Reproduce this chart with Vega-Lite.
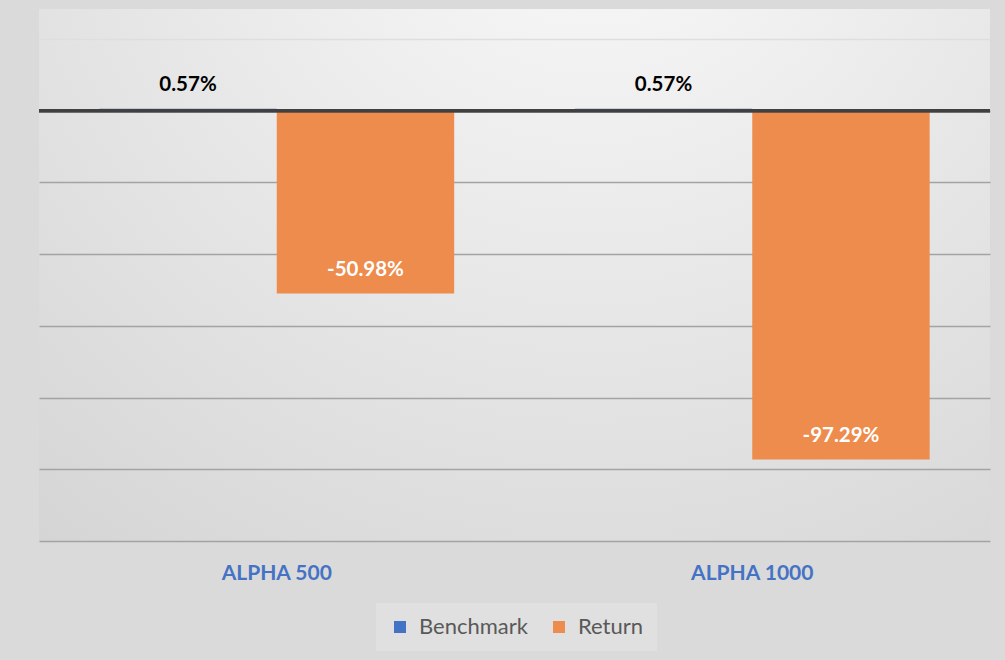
{
  "$schema": "https://vega.github.io/schema/vega-lite/v6.json",
  "width": 951,
  "height": 532,
  "autosize": {"type": "none"},
  "padding": {"left": 39, "top": 9, "right": 15, "bottom": 119},
  "background": "#dadada",
  "config": {
    "locale": {
      "number": {"decimal": ".", "thousands": ",", "grouping": [3], "currency": ["$", ""], "minus": "-"}
    }
  },
  "view": {
    "stroke": null,
    "fill": {
      "gradient": "radial",
      "x1": 0.58, "y1": 0.05, "x2": 0.58, "y2": 0.05,
      "r1": 0, "r2": 0.95,
      "stops": [
        {"offset": 0, "color": "#fbfbfb"},
        {"offset": 1, "color": "#d4d4d4"}
      ]
    }
  },
  "data": {
    "values": [
      {"fund": "ALPHA 500", "series": "Benchmark", "value": 0.0057},
      {"fund": "ALPHA 500", "series": "Return", "value": -0.5098},
      {"fund": "ALPHA 1000", "series": "Benchmark", "value": 0.0057},
      {"fund": "ALPHA 1000", "series": "Return", "value": -0.9729}
    ]
  },
  "encoding": {
    "x": {
      "field": "fund",
      "type": "nominal",
      "sort": ["ALPHA 500", "ALPHA 1000"],
      "scale": {"paddingInner": 0, "paddingOuter": 0},
      "axis": {
        "title": null,
        "labelAngle": 0,
        "domain": false,
        "ticks": false,
        "labelPadding": 21,
        "labelFont": "Lato",
        "labelFontWeight": "bold",
        "labelFontSize": 21,
        "labelColor": "#4472C4"
      }
    },
    "xOffset": {
      "field": "series",
      "type": "nominal",
      "sort": ["Benchmark", "Return"],
      "scale": {"paddingInner": 0, "paddingOuter": 0.34}
    },
    "y": {
      "field": "value",
      "type": "quantitative",
      "scale": {"domain": [-1.2, 0.2837], "nice": false, "zero": false},
      "axis": {
        "title": null,
        "values": [0.2, 0, -0.2, -0.4, -0.6, -0.8, -1.0, -1.2],
        "labels": false,
        "ticks": false,
        "domain": false,
        "gridWidth": 1.5,
        "gridColor": {"condition": {"test": "datum.value > 0.1", "value": "#dedede"}, "value": "#a3a3a3"}
      }
    }
  },
  "layer": [
    {
      "mark": {"type": "bar"},
      "encoding": {
        "color": {
          "field": "series",
          "type": "nominal",
          "sort": ["Benchmark", "Return"],
          "scale": {"domain": ["Benchmark", "Return"], "range": ["#4472C4", "#ED8C4C"]},
          "legend": {
            "title": null,
            "orient": "none",
            "direction": "horizontal",
            "legendX": 337,
            "legendY": 594,
            "fillColor": "#e0e0e0",
            "padding": 13,
            "symbolType": "square",
            "symbolSize": 145,
            "symbolStrokeWidth": 0,
            "labelFont": "Lato",
            "labelFontSize": 22,
            "labelColor": "#595959",
            "columnPadding": 20,
            "labelOffset": 8
          }
        }
      }
    },
    {
      "mark": {"type": "rule", "color": "#404040", "strokeWidth": 3},
      "encoding": {"y": {"datum": 0}, "x": null, "xOffset": null}
    },
    {
      "mark": {"type": "text", "baseline": "middle", "dy": -24, "font": "Lato", "fontWeight": "bold", "fontSize": 20.5},
      "encoding": {
        "text": {"field": "value", "type": "quantitative", "format": ".2%"},
        "color": {
          "condition": {"test": "datum.series === 'Benchmark'", "value": "#000000"},
          "value": "#ffffff"
        }
      }
    }
  ]
}
